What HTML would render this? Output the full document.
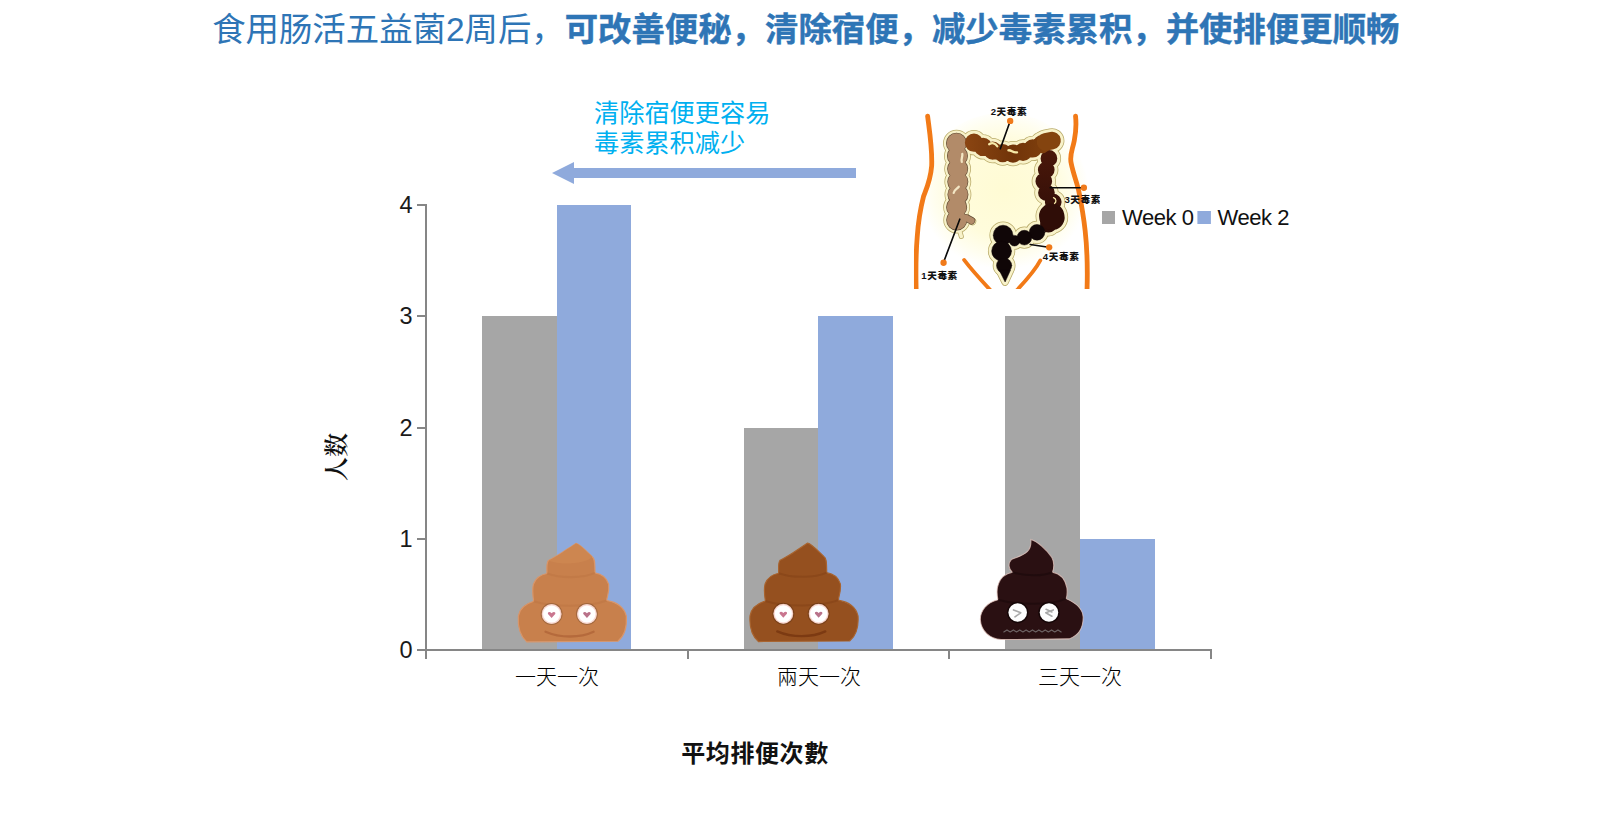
<!DOCTYPE html>
<html lang="zh">
<head>
<meta charset="utf-8">
<title>chart</title>
<style>
html,body{margin:0;padding:0;background:#fff;}
body{width:1611px;height:829px;overflow:hidden;font-family:"Liberation Sans","Noto Sans CJK SC",sans-serif;}
svg{display:block;}
.t{font-family:"Liberation Sans","Noto Sans CJK SC",sans-serif;}
.tc{font-family:"Liberation Sans","Noto Sans CJK TC",sans-serif;}
</style>
</head>
<body>
<svg width="1611" height="829" viewBox="0 0 1611 829">
<rect width="1611" height="829" fill="#fff"/>
<!-- TITLE -->
<text class="t" x="212.2" y="41" font-size="33.4" fill="#2e75b6"><tspan font-weight="400">食用肠活五益菌2周后，</tspan><tspan font-weight="700" stroke="#2e75b6" stroke-width="0.4">可改善便秘，清除宿便，减少毒素累积，并使排便更顺畅</tspan></text>
<!-- ANNOTATION -->
<text class="t" x="594" y="122" font-size="25.2" fill="#00b0f0" font-weight="400">清除宿便更容易</text>
<text class="t" x="594" y="152" font-size="25.2" fill="#00b0f0" font-weight="400">毒素累积减少</text>
<polygon points="552,173 574,162 574,168 856,168 856,178 574,178 574,184" fill="#8faadc"/>
<!-- BARS -->
<g id="bars">
<rect x="482" y="316" width="75" height="334" fill="#a6a6a6"/>
<rect x="557" y="205" width="74" height="445" fill="#8faadc"/>
<rect x="744" y="428" width="75" height="222" fill="#a6a6a6"/>
<rect x="818" y="316" width="75" height="334" fill="#8faadc"/>
<rect x="1005" y="316" width="75" height="334" fill="#a6a6a6"/>
<rect x="1080" y="539" width="75" height="111" fill="#8faadc"/>
</g>
<!-- AXES -->
<g stroke="#868686" stroke-width="2" fill="none">
<path d="M426 204V650M425 650H1212"/>
<path d="M417 205H426M417 316H426M417 428H426M417 539H426M417 650H426"/>
<path d="M426 650V659M688 650V659M949 650V659M1211 650V659"/>
</g>
<g class="t" font-size="23.5" fill="#1a1a1a" text-anchor="end">
<text x="412.5" y="212.5">4</text><text x="412.5" y="323.5">3</text><text x="412.5" y="435.5">2</text><text x="412.5" y="546.5">1</text><text x="412.5" y="657.5">0</text>
</g>
<g class="tc" font-size="21" fill="#000" text-anchor="middle" font-weight="300">
<text x="557" y="684">一天一次</text><text x="819" y="684">兩天一次</text><text x="1080" y="684">三天一次</text>
</g>
<text class="tc" x="755" y="761.5" font-size="24" letter-spacing="0.6" font-weight="700" fill="#111" text-anchor="middle">平均排便次數</text>
<text x="0" y="0" font-family="'Liberation Serif','Noto Serif CJK SC',serif" font-size="24" font-weight="600" fill="#111" text-anchor="middle" transform="translate(345,457) rotate(-90)">人数</text>
<!-- LEGEND -->
<rect x="1102" y="211" width="13" height="13" fill="#a6a6a6"/>
<rect x="1197.4" y="211" width="13.5" height="13" fill="#8faadc"/>
<g class="t" font-size="22" fill="#111"><text x="1122" y="224.5" textLength="72">Week 0</text><text x="1217.5" y="224.5" textLength="72">Week 2</text></g>
<!-- COLON -->
<g id="colon" transform="translate(900,90) scale(0.25329)">
<defs>
<radialGradient id="glow" cx="0.5" cy="0.48" r="0.5"><stop offset="0" stop-color="#fffbd4"/><stop offset="0.6" stop-color="#fffcdc"/><stop offset="0.85" stop-color="#fffef0"/><stop offset="1" stop-color="#ffffff"/></radialGradient>
<linearGradient id="gT" gradientUnits="userSpaceOnUse" x1="260" y1="0" x2="630" y2="0"><stop offset="0" stop-color="#8a4512"/><stop offset="0.5" stop-color="#713409"/><stop offset="1" stop-color="#84440f"/></linearGradient>
<linearGradient id="gD" gradientUnits="userSpaceOnUse" x1="0" y1="240" x2="0" y2="560"><stop offset="0" stop-color="#4a180a"/><stop offset="1" stop-color="#2c0c07"/></linearGradient>
<clipPath id="cclip"><rect x="55" y="30" width="735" height="755.5"/></clipPath>
<path id="pA" d="M223 210C230 260 226 330 229 380S218 460 224 514"/>
<path id="pT" d="M292 208C330 226 370 246 420 251S520 234 560 214 590 206 598 206"/>
<g id="sig"><circle cx="541" cy="562" r="31"/><circle cx="491" cy="583" r="29"/><circle cx="452" cy="595" r="21"/><circle cx="407" cy="573" r="39"/><circle cx="401" cy="636" r="39"/><circle cx="411" cy="693" r="30"/><path d="M392 712L415 758L436 712Z"/></g>
<path id="pD" d="M588 270C584 310 560 345 570 385S606 420 608 460 596 515 586 530"/>
</defs>
<g clip-path="url(#cclip)">
<ellipse cx="410" cy="405" rx="335" ry="315" fill="url(#glow)"/>
<!-- body outline -->
<g fill="none" stroke="#f27a17" stroke-linecap="round" stroke-linejoin="round">
<path d="M109 103C116 160 128 230 125 300C120 360 100 400 93 420C80 470 72 520 68 580C62 650 62 720 64 800" stroke-width="19"/>
<path d="M693 103C697 140 694 170 688 200C680 240 668 260 676 290C684 330 700 370 706 400C716 450 726 510 731 556C738 620 742 690 738 800" stroke-width="19"/>
<path d="M253 671C275 700 300 730 366 800" stroke-width="15"/>
<path d="M554 673C540 700 515 735 452 800" stroke-width="15"/>
</g>
<!-- outer sheath -->
<g fill="none" stroke-linecap="round" stroke-linejoin="round">
<g stroke="#b9ab6a">
<use href="#pA" stroke-width="106" stroke-dasharray="0 50.68"/>
<use href="#pT" stroke-width="100" stroke-dasharray="0 40.43"/>
<use href="#pD" stroke-width="96" stroke-dasharray="0 46.38"/>
<use href="#sig" fill="#b9ab6a" stroke-width="30"/>
<path d="M575 205L600 200" stroke-width="98"/>
<path d="M270 512L286 519" stroke-width="30"/><path d="M232 545L242 578" stroke-width="20"/>
<path d="M599 498L600 503" stroke-width="128"/>
</g>
<g stroke="#f8f2c9">
<use href="#pA" stroke-width="100" stroke-dasharray="0 50.68"/>
<use href="#pT" stroke-width="94" stroke-dasharray="0 40.43"/>
<use href="#pD" stroke-width="90" stroke-dasharray="0 46.38"/>
<use href="#sig" fill="#f8f2c9" stroke-width="24"/>
<path d="M575 205L600 200" stroke-width="92"/>
<path d="M270 512L286 519" stroke-width="24"/><path d="M232 545L242 578" stroke-width="14"/>
<path d="M599 498L600 503" stroke-width="122"/>
</g>
<!-- ascending -->
<use href="#pA" stroke="#5f4a34" stroke-width="83" stroke-dasharray="0 50.68"/>
<path d="M262 505L282 516" stroke="#5f4a34" stroke-width="30"/>
<use href="#pA" stroke="#b28b69" stroke-width="78" stroke-dasharray="0 50.68"/>
<path d="M262 505L282 516" stroke="#b28b69" stroke-width="25"/>
<!-- descending -->
<use href="#pD" stroke="url(#gD)" stroke-width="66" stroke-dasharray="0 46.38"/>
<path d="M599 498L600 503" stroke="#2f0d07" stroke-width="100"/>
<!-- transverse -->
<use href="#pT" stroke="url(#gT)" stroke-width="72" stroke-dasharray="0 40.43"/>
<path d="M575 205L600 200" stroke="#84440f" stroke-width="70"/>
<!-- sigmoid -->
<use href="#sig" fill="#100607" stroke="#100607" stroke-width="2"/>
<!-- highlights -->
<path d="M352 214C366 206 378 212 384 222M428 238C440 236 446 250 462 246" stroke="#f6e9a8" stroke-width="9"/>
<path d="M246 252C248 264 240 272 244 284M212 406C214 394 226 390 232 382" stroke="#f3e6c4" stroke-width="9"/>
<path d="M606 425C618 430 618 442 610 448" stroke="#f6e9a8" stroke-width="5"/>
</g>
<!-- pointers -->
<g stroke="#0a0a0a" stroke-width="6.5" stroke-linecap="round">
<path d="M433 128L396 232M716 386L593 386M580 620L514 610M175 672L236 510"/>
</g>
<g fill="#f07a1a"><circle cx="435" cy="122" r="12.5"/><circle cx="726" cy="386" r="12.5"/><circle cx="589" cy="621" r="12.5"/><circle cx="172" cy="682" r="12.5"/></g>
<g class="t" font-size="38" font-weight="900" fill="#111">
<text x="358" y="98" textLength="142">2天毒素</text>
<text x="649" y="446" textLength="142">3天毒素</text>
<text x="564" y="671" textLength="142">4天毒素</text>
<text x="84" y="746" textLength="142">1天毒素</text>
</g>
</g>
</g>

<!-- POOPS -->
<g id="poops">
<defs>
<g id="poopA">
<path d="M490 58C515 62 560 110 602 150C622 160 620 200 622 262C660 268 700 290 716 340C722 390 706 420 702 452C760 462 820 490 838 560C842 620 834 690 780 734L150 738C96 690 88 620 92 560C104 492 160 470 198 458C192 420 186 380 196 340C214 292 256 272 290 266C288 220 286 190 300 176C360 150 430 96 490 58Z"/>
</g>
<g id="eyesA">
<circle cx="322" cy="546" r="76" fill="#000" opacity="0.18"/>
<circle cx="566" cy="546" r="76" fill="#000" opacity="0.18"/>
<circle cx="322" cy="546" r="67" fill="#fff"/>
<circle cx="566" cy="546" r="67" fill="#fff"/>
<circle cx="322" cy="546" r="64" fill="none" stroke="#f6c9c0" stroke-width="10" opacity="0.7"/>
<circle cx="566" cy="546" r="64" fill="none" stroke="#f6c9c0" stroke-width="10" opacity="0.7"/>
<path d="M322 574L297 546C292 532 308 525 322 540C336 525 352 532 347 546Z" fill="#c9768f"/>
<path d="M566 574L541 546C536 532 552 525 566 540C580 525 596 532 591 546Z" fill="#b9728a"/>
</g>
</defs>
<!-- poop 1 -->
<g transform="translate(505,535) scale(0.14478)">
<use href="#poopA" fill="#c8804c" stroke="#d9966a" stroke-width="8"/>
<path d="M300 176C360 150 430 96 490 58C515 62 560 110 602 150C560 200 380 210 300 176Z" fill="#cd8650"/>
<path d="M198 458C330 500 580 500 702 452M290 266C380 300 540 300 622 262" fill="none" stroke="#bd7444" stroke-width="14" opacity="0.55"/>
<path d="M280 668C380 712 520 712 612 668" fill="none" stroke="#b56a3c" stroke-width="16" stroke-linecap="round"/>
<use href="#eyesA"/>
</g>
<!-- poop 2 -->
<g transform="translate(736.7,534.7) scale(0.14478)">
<use href="#poopA" fill="#95501f" stroke="#a9642f" stroke-width="8"/>
<path d="M198 458C330 500 580 500 702 452M290 266C380 300 540 300 622 262" fill="none" stroke="#854318" stroke-width="14" opacity="0.6"/>
<path d="M280 668C380 712 520 712 612 668" fill="none" stroke="#7c3a12" stroke-width="16" stroke-linecap="round"/>
<use href="#eyesA"/>
</g>
<!-- poop 3 -->
<g transform="translate(965,530) scale(0.14478)">
<path d="M455 66C500 80 560 130 600 190C616 220 616 260 604 292C650 300 690 330 704 400C708 440 704 460 698 474C760 500 812 540 816 600C818 680 780 730 720 752L250 757C170 750 112 700 106 620C104 560 150 500 228 482C218 440 220 400 232 370C250 320 290 300 328 292C300 270 296 230 320 204C350 190 400 180 430 150C452 128 458 100 455 66Z" fill="#2a1012" stroke="#e8c8c0" stroke-width="7" stroke-opacity="0.75"/>
<path d="M228 482C360 520 600 520 698 474M328 292C420 320 540 320 604 292" fill="none" stroke="#1c0a0b" stroke-width="14" opacity="0.7"/>
<circle cx="364" cy="570" r="74" fill="#150607"/>
<circle cx="580" cy="570" r="74" fill="#150607"/>
<circle cx="364" cy="570" r="64" fill="#fdfdfd"/>
<circle cx="580" cy="570" r="64" fill="#fdfdfd"/>
<path d="M335 552L385 572L345 600M610 552L558 572L600 596M560 548L600 566" fill="none" stroke="#a9a9a9" stroke-width="11" stroke-linecap="round" stroke-linejoin="round"/>
<path d="M268 704l22-14 22 14 22-14 22 14 22-14 22 14 22-14 22 14 22-14 22 14 22-14 22 14 22-14 22 14 22-14 22 14 22-14 22 14" fill="none" stroke="#6d6364" stroke-width="8" stroke-linejoin="round" stroke-linecap="round"/>
</g>
</g>

</svg>
</body>
</html>
